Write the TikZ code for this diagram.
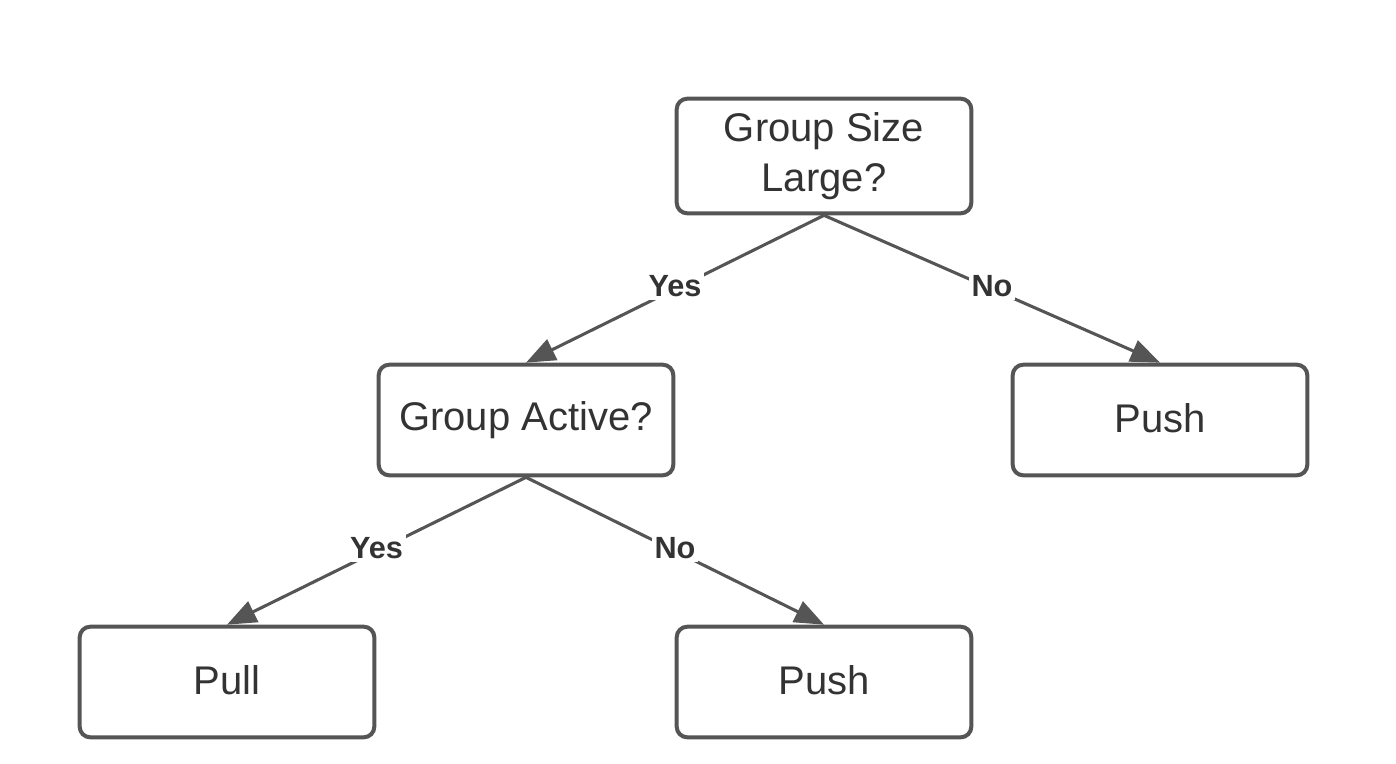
\documentclass[tikz,border=0pt]{standalone}
\usepackage{fontspec}
\setmainfont{Liberation Sans}
\usetikzlibrary{arrows.meta}
\definecolor{stroke}{HTML}{555555}
\definecolor{txt}{HTML}{333333}
\begin{document}
\begin{tikzpicture}[x=0.75pt,y=-0.75pt,
  box/.style={draw=stroke, line width=3pt, rounded corners=8pt, fill=white,
    minimum width=221pt, text=txt, font=\fontsize{30}{37.5}\selectfont, align=center, inner sep=0pt},
  conn/.style={draw=stroke, line width=2.3pt, -{Triangle[length=22pt,width=17pt]}, shorten <=-1pt},
  lbl/.style={fill=white, text=txt, font=\bfseries\fontsize{23}{27}\selectfont, inner sep=2pt, midway, yshift=2pt}]
\useasboundingbox (0,0) rectangle (1396,764);
\node[box, minimum height=86pt] (top) at (824,156) {Group Size\\Large?};
\node[box, minimum height=83pt] (ga) at (526,420) {\raisebox{2.5pt}{Group Active?}};
\node[box, minimum height=83pt] (push1) at (1160,420) {\raisebox{2.5pt}{Push}};
\node[box, minimum height=83pt] (pull) at (227,682) {\raisebox{2.5pt}{Pull}};
\node[box, minimum height=83pt] (push2) at (824,682) {\raisebox{2.5pt}{Push}};
\draw[conn] (top.south) -- node[lbl] {Yes} (ga.north);
\draw[conn] (top.south) -- node[lbl] {No} (push1.north);
\draw[conn] (ga.south) -- node[lbl] {Yes} (pull.north);
\draw[conn] (ga.south) -- node[lbl] {No} (push2.north);
\end{tikzpicture}
\end{document}
